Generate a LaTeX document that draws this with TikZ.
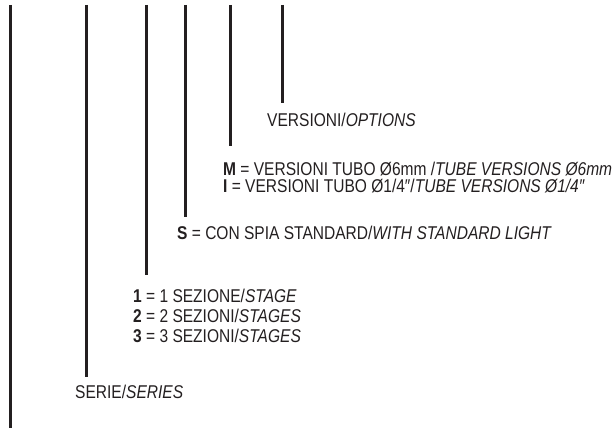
\documentclass[tikz,border=0pt]{standalone}
\usepackage{fontspec}
\setmainfont{Liberation Sans}[FakeStretch=0.84]
\usepackage{tikz}
\usepackage{color}
\definecolor{ink}{RGB}{35,31,32}

\tikzset{
  codeline/.style={draw=ink, line width=3pt},
  codetext/.style={anchor=base west, inner sep=0pt, text=ink, font=\fontsize{18.5}{16}\selectfont}
}

\begin{document}
\begin{tikzpicture}[x=1pt,y=-1pt]

\useasboundingbox (0,0) rectangle (614,430);

% Linee verticali
\coordinate (serietop) at (10,5);
\coordinate (seriebot) at (10,428);
\coordinate (sectop) at (86.5,5);
\coordinate (secbot) at (86.5,377);
\coordinate (stagetop) at (146.7,5);
\coordinate (stagebot) at (146.7,275);
\coordinate (spiatop) at (185.5,5);
\coordinate (spiabot) at (185.5,217);
\coordinate (tubotop) at (230.5,5);
\coordinate (tubobot) at (230.5,146);
\coordinate (opttop) at (282.7,5);
\coordinate (optbot) at (282.7,103);

\draw[codeline] (serietop) -- (seriebot);
\draw[codeline] (sectop) -- (secbot);
\draw[codeline] (stagetop) -- (stagebot);
\draw[codeline] (spiatop) -- (spiabot);
\draw[codeline] (tubotop) -- (tubobot);
\draw[codeline] (opttop) -- (optbot);

% Versioni
\node[codetext] (opt) at (267,127) {VERSIONI/\textit{OPTIONS}};

% Tubo
\node[codetext] (tubom) at (223,176) {\textbf{M} = VERSIONI TUBO Ø6mm /\textit{TUBE VERSIONS Ø6mm}};
\node[codetext] (tuboi) at (223,193) {\textbf{I} = VERSIONI TUBO Ø1/4″/\textit{TUBE VERSIONS Ø1/4″}};

% Spia
\node[codetext] (spia) at (177,240) {\textbf{S} = CON SPIA STANDARD/\textit{WITH STANDARD LIGHT}};

% Sezioni
\node[codetext] (stage1) at (133,303) {\textbf{1} = 1 SEZIONE/\textit{STAGE}};
\node[codetext] (stage2) at (133,323) {\textbf{2} = 2 SEZIONI/\textit{STAGES}};
\node[codetext] (stage3) at (133,343) {\textbf{3} = 3 SEZIONI/\textit{STAGES}};

% Serie
\node[codetext] (serie) at (75,399) {SERIE/\textit{SERIES}};

\end{tikzpicture}
\end{document}
